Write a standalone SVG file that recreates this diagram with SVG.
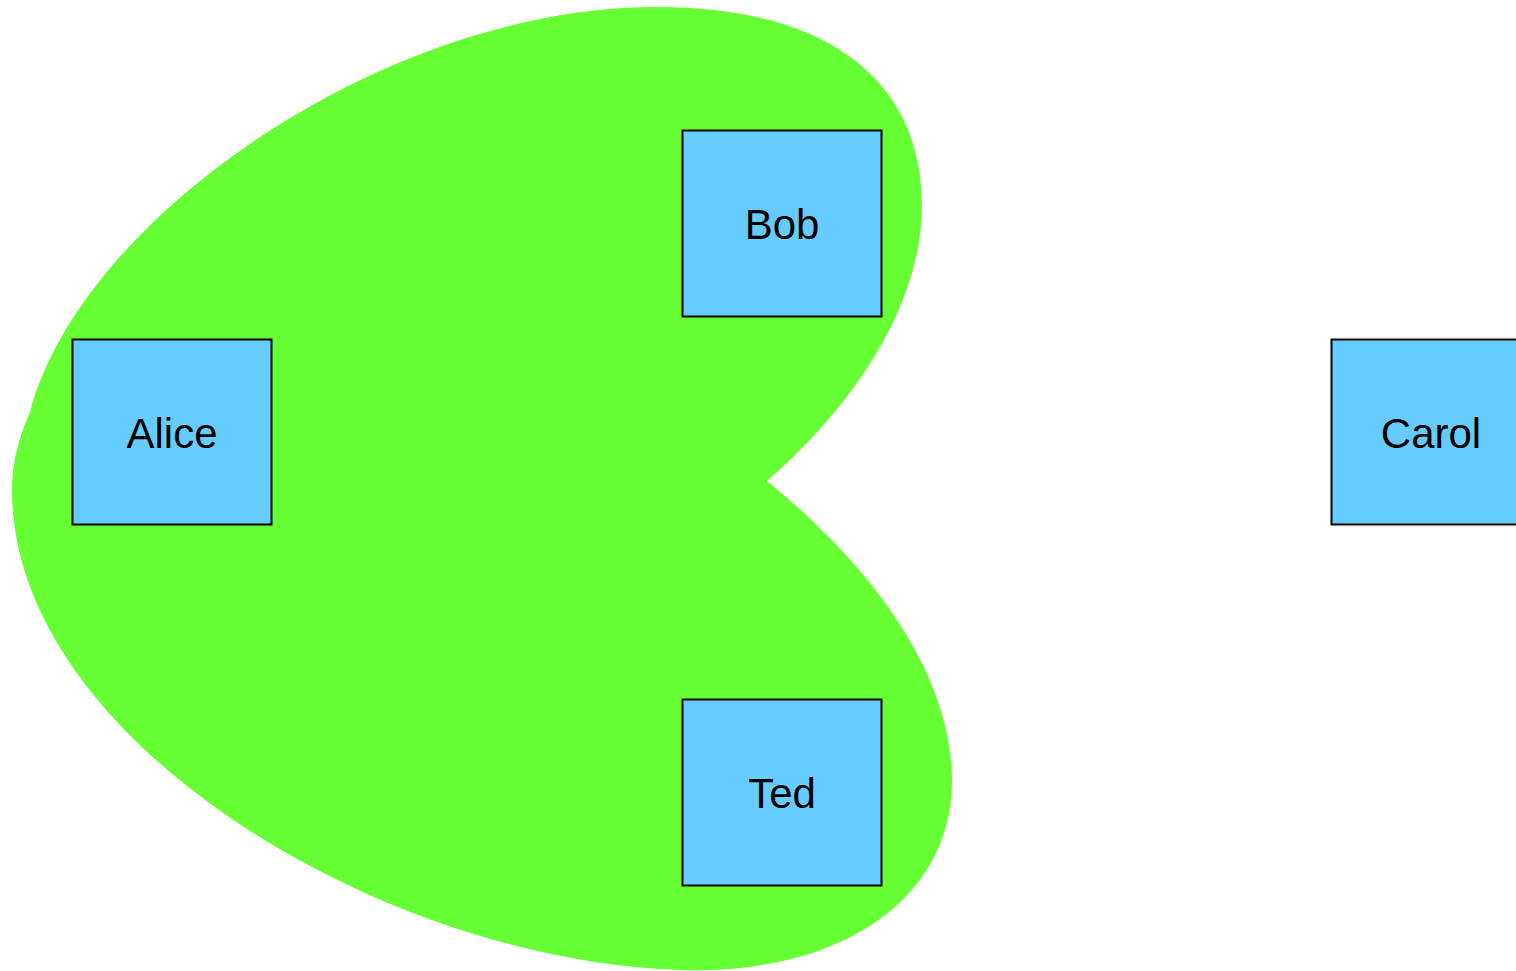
<svg xmlns="http://www.w3.org/2000/svg" width="1516" height="971" viewBox="0 0 1516 971">
<style>
.box{fill:#66ccff;stroke:#000;stroke-width:2}
.lbl{font-family:"Liberation Sans",Arial,sans-serif;font-size:42px;fill:#000;text-anchor:middle}
</style>
<rect width="1516" height="971" fill="#fff"/>
<g id="group">
<path d="M 30 412 C 80 220, 380 10, 650 7 C 840 5, 922 90, 922 205 C 922 300, 860 400, 767 481 C 880 573, 952 680, 952 780 C 952 900, 840 975, 680 970 C 380 960, 12 740, 12 490 C 12 460, 20 435, 30 412 Z" fill="#66ff33"/>
</g>
<g id="connectors"></g>
<g id="alice"><rect class="box" x="72.5" y="339.5" width="199" height="185"/><text class="lbl" x="172" y="448">Alice</text></g>
<g id="bob"><rect class="box" x="682.5" y="130.5" width="199" height="186"/><text class="lbl" x="782" y="239">Bob</text></g>
<g id="ted"><rect class="box" x="682.5" y="699.5" width="199" height="186"/><text class="lbl" x="782" y="808">Ted</text></g>
<g id="carol"><rect class="box" x="1331.5" y="339.5" width="199" height="185"/><text class="lbl" x="1431" y="448">Carol</text></g>
</svg>
